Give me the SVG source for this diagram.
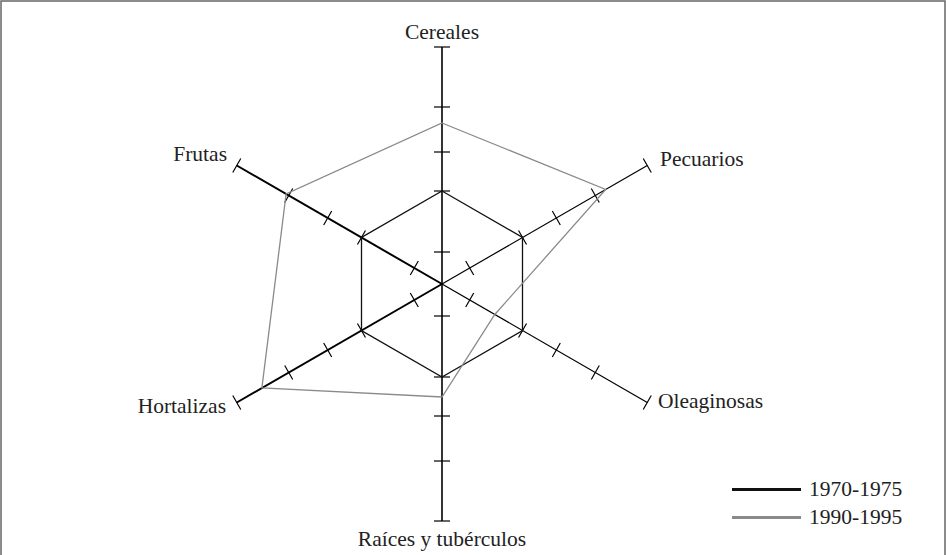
<svg xmlns="http://www.w3.org/2000/svg" width="946" height="555" viewBox="0 0 946 555">
<style>
  text { font-family: "Liberation Serif", "Times New Roman", serif; font-size: 21.5px; fill: #222; }
  .ax { stroke: #000; fill: none; }
  .tk { stroke: #000; stroke-width: 1.2; }
  .s1 { stroke: #111; stroke-width: 1.3; fill: none; }
  .s2 { stroke: #8a8a8a; stroke-width: 1.3; fill: none; }
</style>
<defs>
  <g id="axis">
    <line x1="0" y1="0" x2="0" y2="-237"/>
    <g class="tk">
      <line x1="-8" y1="-32" x2="8" y2="-32"/>
      <line x1="-8" y1="-93" x2="8" y2="-93"/>
      <line x1="-8" y1="-132" x2="8" y2="-132"/>
      <line x1="-8" y1="-177" x2="8" y2="-177"/>
      <line x1="-8" y1="-237" x2="8" y2="-237"/>
    </g>
  </g>
</defs>
<rect width="946" height="555" fill="#fff"/>
<path d="M1 555 V1 H945 V555" fill="none" stroke="#666" stroke-width="1.5"/>
<g id="axes" class="ax">
  <g id="axis-cereales" transform="translate(442,284) rotate(0)" stroke-width="1.6"><use href="#axis"/></g>
  <g id="axis-pecuarios" transform="translate(442,284) rotate(60)" stroke-width="1.2"><use href="#axis"/></g>
  <g id="axis-oleaginosas" transform="translate(442,284) rotate(120)" stroke-width="1.2"><use href="#axis"/></g>
  <g id="axis-raices" transform="translate(442,284) rotate(180)" stroke-width="1.6"><use href="#axis"/></g>
  <g id="axis-hortalizas" transform="translate(442,284) rotate(240)" stroke-width="2"><use href="#axis"/></g>
  <g id="axis-frutas" transform="translate(442,284) rotate(300)" stroke-width="2"><use href="#axis"/></g>
</g>
<g id="series">
  <polygon id="s1970" class="s1" points="442,191 522.5,237.5 522.5,330.5 442,377 361.5,330.5 361.5,237.5"/>
  <polygon id="s1990" class="s2" points="442,123 605.7,189.5 494.8,314.5 442,397 261.9,388 286.1,194"/>
</g>
<g id="labels">
  <text x="442" y="39" text-anchor="middle">Cereales</text>
  <text x="660" y="166">Pecuarios</text>
  <text x="658" y="408">Oleaginosas</text>
  <text x="442" y="546" text-anchor="middle">Raíces y tubérculos</text>
  <text x="226" y="413" text-anchor="end">Hortalizas</text>
  <text x="227" y="161" text-anchor="end">Frutas</text>
</g>
<g id="legend">
  <line x1="732" y1="489.5" x2="801" y2="489.5" stroke="#111" stroke-width="2.8"/>
  <line x1="732" y1="517.5" x2="801" y2="517.5" stroke="#8a8a8a" stroke-width="2.8"/>
  <text x="809" y="496">1970-1975</text>
  <text x="809" y="524">1990-1995</text>
</g>
</svg>
